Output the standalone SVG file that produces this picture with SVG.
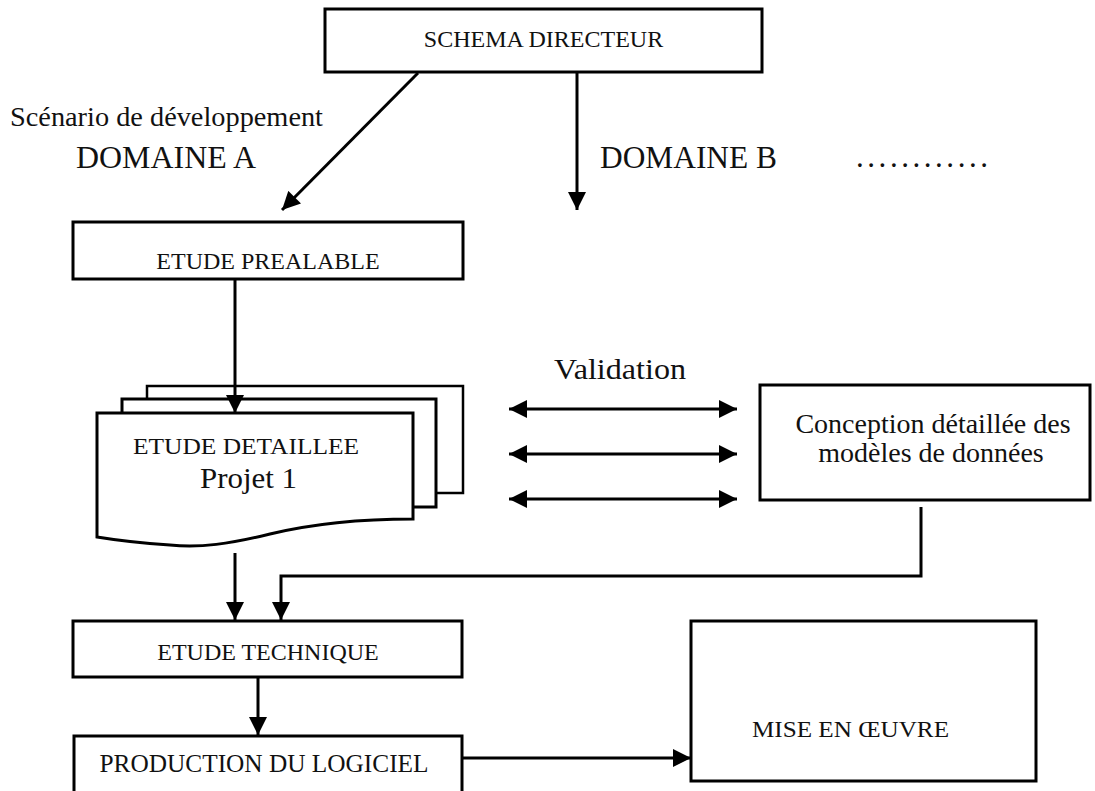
<svg xmlns="http://www.w3.org/2000/svg" width="1095" height="791" viewBox="0 0 1095 791">
<style>
.box{fill:#fff;stroke:#000;stroke-width:3}
.sheet{fill:#fff;stroke:#000;stroke-width:2.5}
.t{font-family:"Liberation Serif","Times New Roman",serif;fill:#111}
.ln{fill:none;stroke:#000;stroke-width:3}
</style>
<defs>
<marker id="ah" viewBox="0 0 10 10" refX="10" refY="5" markerWidth="20" markerHeight="18" markerUnits="userSpaceOnUse" orient="auto-start-reverse">
<path d="M0,0 L10,5 L0,10 Z" fill="#000"/>
</marker>
</defs>
<rect width="1095" height="791" fill="#fff"/>

<g id="schema">
<rect class="box" x="325" y="9" width="437" height="63"/>
<text class="t" x="543.5" y="47" font-size="24" text-anchor="middle">SCHEMA DIRECTEUR</text>
</g>

<g id="labels">
<text class="t" x="10" y="126" font-size="27" textLength="313" lengthAdjust="spacingAndGlyphs">Scénario de développement</text>
<text class="t" x="76" y="168" font-size="31" textLength="180" lengthAdjust="spacingAndGlyphs">DOMAINE A</text>
<text class="t" x="600" y="168" font-size="31" textLength="177" lengthAdjust="spacingAndGlyphs">DOMAINE B</text>
<text class="t" x="856" y="167" font-size="31" textLength="132" lengthAdjust="spacing">............</text>
<text class="t" x="554" y="379" font-size="30" textLength="132" lengthAdjust="spacingAndGlyphs">Validation</text>
</g>

<g id="prealable">
<rect class="box" x="73" y="222" width="390" height="57"/>
<text class="t" x="268" y="269" font-size="24" text-anchor="middle">ETUDE PREALABLE</text>
</g>

<g id="detaillee">
<rect class="sheet" x="147" y="386" width="316" height="107"/>
<rect class="box" x="122" y="399" width="314" height="108"/>
<path class="box" d="M97,413 L413,413 L413,519 C370,519 320,522 270,534 C230,544 200,548 170,545 C140,543 115,540 97,537 Z"/>
<text class="t" x="133" y="454" font-size="24" textLength="226" lengthAdjust="spacingAndGlyphs">ETUDE DETAILLEE</text>
<text class="t" x="200" y="488" font-size="30" textLength="97" lengthAdjust="spacingAndGlyphs">Projet 1</text>
</g>

<g id="conception">
<rect class="box" x="760" y="385" width="330" height="115"/>
<text class="t" x="933" y="433" font-size="28" text-anchor="middle">Conception détaillée des</text>
<text class="t" x="931" y="462" font-size="28" text-anchor="middle">modèles de données</text>
</g>

<g id="technique">
<rect class="box" x="73" y="621" width="389" height="56"/>
<text class="t" x="268" y="660" font-size="24" text-anchor="middle">ETUDE TECHNIQUE</text>
</g>

<g id="production">
<rect class="box" x="74" y="736" width="388" height="70"/>
<text class="t" x="99.5" y="772" font-size="25" textLength="329" lengthAdjust="spacingAndGlyphs">PRODUCTION DU LOGICIEL</text>
</g>

<g id="miseenoeuvre">
<rect class="box" x="691" y="621" width="345" height="160"/>
<text class="t" x="752" y="737" font-size="24" textLength="197" lengthAdjust="spacingAndGlyphs">MISE EN ŒUVRE</text>
</g>

<g id="connectors">
<line class="ln" x1="418" y1="73" x2="282" y2="210" marker-end="url(#ah)"/>
<line class="ln" x1="577" y1="73" x2="577" y2="210" marker-end="url(#ah)"/>
<line class="ln" x1="235" y1="279" x2="235" y2="413" marker-end="url(#ah)"/>
<line class="ln" x1="509" y1="409" x2="737" y2="409" marker-start="url(#ah)" marker-end="url(#ah)"/>
<line class="ln" x1="509" y1="454" x2="737" y2="454" marker-start="url(#ah)" marker-end="url(#ah)"/>
<line class="ln" x1="509" y1="499" x2="737" y2="499" marker-start="url(#ah)" marker-end="url(#ah)"/>
<line class="ln" x1="235" y1="553" x2="235" y2="620" marker-end="url(#ah)"/>
<polyline class="ln" points="921,507 921,576 281,576 281,620" marker-end="url(#ah)"/>
<line class="ln" x1="258" y1="677" x2="258" y2="735" marker-end="url(#ah)"/>
<line class="ln" x1="462" y1="758" x2="691" y2="758" marker-end="url(#ah)"/>
</g>
</svg>
